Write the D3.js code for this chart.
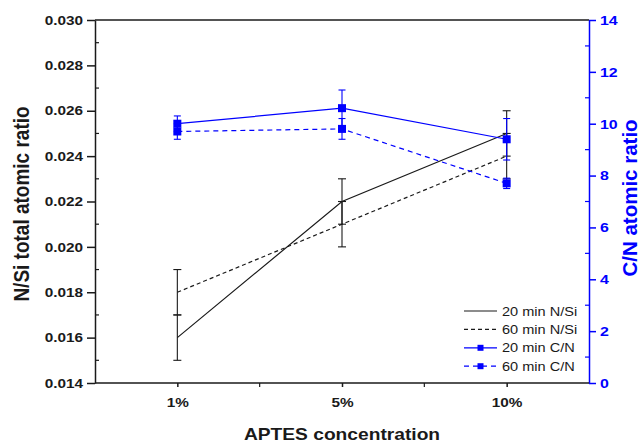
<!DOCTYPE html>
<html>
<head>
<meta charset="utf-8">
<script src="https://cdn.jsdelivr.net/npm/d3@7"></script>
<style>
  body { margin: 0; background: #fff; }
  svg { display: block; font-family: "Liberation Sans", Arial, sans-serif; }
</style>
</head>
<body>
<div id="chart"></div>
<script>
(function () {

    // --- data ---
    const concentrations = ["1%", "5%", "10%"];

    const nsi20 = [0.016, 0.022, 0.025];
    const nsi20Err = [0.001, 0.001, 0.001];
    const nsi60 = [0.018, 0.021, 0.024];
    const nsi60Err = [0.001, 0.001, 0.001];

    const cn20 = [10.0, 10.6, 9.4];
    const cn20Err = [0.3, 0.7, 0.8];
    const cn60 = [9.7, 9.8, 7.7];
    const cn60Err = [0.3, 0.4, 0.2];

    const leftTicks = [0.014, 0.016, 0.018, 0.020, 0.022, 0.024, 0.026, 0.028, 0.030];
    const rightTicks = [0, 2, 4, 6, 8, 10, 12, 14];

    // --- layout ---
    const W = 642, H = 443;
    const plot = { left: 95, right: 589, top: 20, bottom: 383 };
    const blue = "#0000ff";
    const ink = "#1a1a1a";
    const stretch = 1.18; // the figure's text is a bit wider than the font

    const svg = d3.select("#chart").append("svg")
        .attr("width", W).attr("height", H);

    const x = d3.scalePoint().domain(concentrations)
        .range([plot.left, plot.right]).padding(0.5);
    const yL = d3.scaleLinear().domain([0.014, 0.030]).range([plot.bottom, plot.top]);
    const yR = d3.scaleLinear().domain([0, 14]).range([plot.bottom, plot.top]);

    // frame top line
    svg.append("line")
        .attr("x1", plot.left).attr("x2", plot.right)
        .attr("y1", plot.top).attr("y2", plot.top)
        .attr("stroke", ink).attr("stroke-width", 1.5);

    // left axis (major ticks outward, minor inward)
    const gL = svg.append("g").attr("transform", `translate(${plot.left},0)`)
        .call(d3.axisLeft(yL).tickValues(leftTicks).tickFormat(d3.format(".3f"))
            .tickSize(8).tickPadding(4).tickSizeOuter(0));
    gL.selectAll("path, line").attr("stroke", ink).attr("stroke-width", 1.5);
    gL.selectAll("text").attr("x", 0)
        .attr("transform", `translate(-12,0) scale(${stretch},1)`)
        .attr("fill", ink).style("font-size", "13px").style("font-weight", "bold");
    gL.selectAll(".minor").data(d3.range(0.015, 0.030, 0.002)).join("line")
        .attr("x1", 0).attr("x2", 4).attr("y1", d => yL(d)).attr("y2", d => yL(d))
        .attr("stroke", ink).attr("stroke-width", 1.2);

    // right axis (blue)
    const gR = svg.append("g").attr("transform", `translate(${plot.right},0)`)
        .call(d3.axisRight(yR).tickValues(rightTicks).tickSize(7).tickPadding(4).tickSizeOuter(0));
    gR.selectAll("path, line").attr("stroke", blue).attr("stroke-width", 1.5);
    gR.selectAll("text").attr("x", 0)
        .attr("transform", `translate(11,0) scale(${stretch},1)`)
        .attr("fill", blue).style("font-size", "13.5px").style("font-weight", "bold");
    gR.selectAll(".minor").data(d3.range(1, 14, 2)).join("line")
        .attr("x1", 0).attr("x2", -4).attr("y1", d => yR(d)).attr("y2", d => yR(d))
        .attr("stroke", blue).attr("stroke-width", 1.2);

    // bottom axis
    const gB = svg.append("g").attr("transform", `translate(0,${plot.bottom})`)
        .call(d3.axisBottom(x).tickSize(4).tickPadding(11).tickSizeOuter(0));
    gB.select(".domain").attr("d", `M${plot.left},0H${plot.right}`);
    gB.selectAll("path, line").attr("stroke", ink).attr("stroke-width", 1.5);
    gB.selectAll("text").attr("transform", `scale(${stretch},1)`)
        .attr("fill", ink).style("font-size", "13px").style("font-weight", "bold");
    const mids = d3.pairs(concentrations).map(([a, b]) => (x(a) + x(b)) / 2);
    gB.selectAll(".minor").data(mids).join("line")
        .attr("x1", d => d).attr("x2", d => d).attr("y1", 0).attr("y2", 4)
        .attr("stroke", ink).attr("stroke-width", 1.2);

    // axis titles
    svg.append("text")
        .attr("transform", `translate(29,204) scale(${stretch},1) rotate(-90)`)
        .attr("text-anchor", "middle").attr("fill", ink)
        .style("font-size", "19px").style("font-weight", "bold")
        .text("N/Si total atomic ratio");
    svg.append("text")
        .attr("transform", "translate(637,198) rotate(-90)")
        .attr("text-anchor", "middle").attr("fill", blue)
        .style("font-size", "20.5px").style("font-weight", "bold")
        .text("C/N atomic ratio");
    svg.append("text")
        .attr("transform", `translate(${(plot.left + plot.right) / 2},440) scale(1.2,1)`)
        .attr("text-anchor", "middle").attr("fill", ink)
        .style("font-size", "16px").style("font-weight", "bold")
        .text("APTES concentration");

    // --- series ---
    const series = [
        { label: "20 min N/Si", vals: nsi20, err: nsi20Err, y: yL, color: ink, dash: null, marker: false, cap: 8 },
        { label: "60 min N/Si", vals: nsi60, err: nsi60Err, y: yL, color: ink, dash: "4,3", marker: false, cap: 8 },
        { label: "20 min C/N", vals: cn20, err: cn20Err, y: yR, color: blue, dash: null, marker: true, cap: 7 },
        { label: "60 min C/N", vals: cn60, err: cn60Err, y: yR, color: blue, dash: "5,4", marker: true, cap: 7 }
    ];

    series.forEach(s => {
        const pts = concentrations.map((c, i) => ({ c, v: s.vals[i], e: s.err[i] }));
        const g = svg.append("g");

        g.append("path")
            .attr("d", d3.line().x(d => x(d.c)).y(d => s.y(d.v))(pts))
            .attr("fill", "none").attr("stroke", s.color).attr("stroke-width", 1.2)
            .attr("stroke-dasharray", s.dash);

        // error bars
        const eb = g.selectAll(".err").data(pts).join("g").attr("stroke", s.color).attr("stroke-width", 1.1);
        eb.append("line")
            .attr("x1", d => x(d.c)).attr("x2", d => x(d.c))
            .attr("y1", d => s.y(d.v - d.e)).attr("y2", d => s.y(d.v + d.e));
        [-1, 1].forEach(sign => {
            eb.append("line")
                .attr("x1", d => x(d.c) - s.cap / 2).attr("x2", d => x(d.c) + s.cap / 2)
                .attr("y1", d => s.y(d.v + sign * d.e)).attr("y2", d => s.y(d.v + sign * d.e));
        });

        if (s.marker) {
            g.selectAll(".mk").data(pts).join("rect")
                .attr("x", d => x(d.c) - 4).attr("y", d => s.y(d.v) - 4)
                .attr("width", 8).attr("height", 8).attr("fill", s.color);
        }
    });

    // --- legend ---
    const legend = svg.append("g").attr("transform", "translate(464,311)");
    series.forEach((s, i) => {
        const row = legend.append("g").attr("transform", `translate(0,${i * 18.4})`);
        row.append("line").attr("x1", 0).attr("x2", 33).attr("y1", 0).attr("y2", 0)
            .attr("stroke", s.color).attr("stroke-width", 1.2).attr("stroke-dasharray", s.dash);
        if (s.marker) {
            row.append("rect").attr("x", 13.5).attr("y", -3).attr("width", 6).attr("height", 6).attr("fill", s.color);
        }
        row.append("text").attr("transform", "translate(38,0) scale(1.12,1)").attr("dy", "0.35em")
            .attr("fill", ink).style("font-size", "13px").text(s.label);
    });

})();
</script>
</body>
</html>
